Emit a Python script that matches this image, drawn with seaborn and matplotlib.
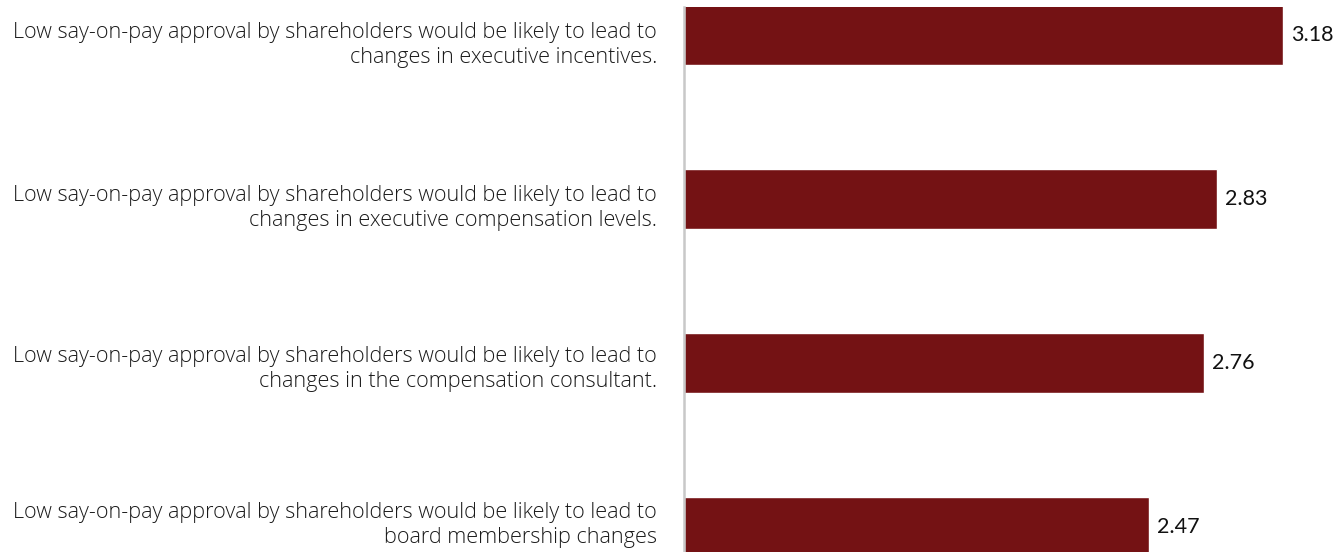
import matplotlib
matplotlib.use("Agg")
import matplotlib.pyplot as plt
import matplotlib.transforms as mtransforms
import pandas as pd
import seaborn as sns

# -- Data ---------------------------------------------------------------
statements = [
    "Low say-on-pay approval by shareholders would be likely to lead to\nchanges in executive incentives.",
    "Low say-on-pay approval by shareholders would be likely to lead to\nchanges in executive compensation levels.",
    "Low say-on-pay approval by shareholders would be likely to lead to\nchanges in the compensation consultant.",
    "Low say-on-pay approval by shareholders would be likely to lead to\nboard membership changes",
]
scores = [3.18, 2.83, 2.76, 2.47]

BAR_COLOR = "#741214"
# small vertical nudges (points, + = down) so the wrapped labels sit like the original
LABEL_NUDGE = [7.3, 6.3, 4.1, -1.6]

sns.set_theme(style="white")
plt.rcParams["font.family"] = ["Open Sans", "DejaVu Sans"]


def main() -> None:
    df = pd.DataFrame({"statement": statements, "score": scores})

    fig = plt.figure(figsize=(13.43, 5.52), dpi=100)
    ax = fig.add_axes([684 / 1343, 0, 1 - 684 / 1343, 545 / 552])

    sns.barplot(data=df, x="score", y="statement", orient="h",
                color=BAR_COLOR, width=0.366, saturation=1, ax=ax)

    ax.set_xlim(0, 3.5)
    ax.set_ylim(3.152, -0.171)
    ax.set_xlabel("")
    ax.set_ylabel("")
    ax.set_xticks([])

    for side in ("top", "right", "bottom"):
        ax.spines[side].set_visible(False)
    ax.spines["left"].set_color("#c8c8c8")
    ax.spines["left"].set_linewidth(1.8)
    ax.tick_params(axis="y", length=0, labelleft=False)

    # category labels, right-aligned against the axis line
    trans = mtransforms.blended_transform_factory(ax.transAxes, ax.transData)
    for i, (txt, dy) in enumerate(zip(df["statement"], LABEL_NUDGE)):
        ax.annotate(txt, xy=(0, i), xycoords=trans,
                    xytext=(-19.4, -dy), textcoords="offset points",
                    ha="right", va="center", multialignment="right",
                    fontsize=15.6, fontweight="light", linespacing=1.22,
                    color="#1a1a1a", annotation_clip=False)

    ax.bar_label(ax.containers[0], labels=[f"{v:.2f}" for v in scores],
                 padding=6, fontsize=15.5, color="#111111", family=["Lato", "DejaVu Sans"])

    fig.savefig("out.png", dpi=100)
    plt.close(fig)


if __name__ == "__main__":
    main()
